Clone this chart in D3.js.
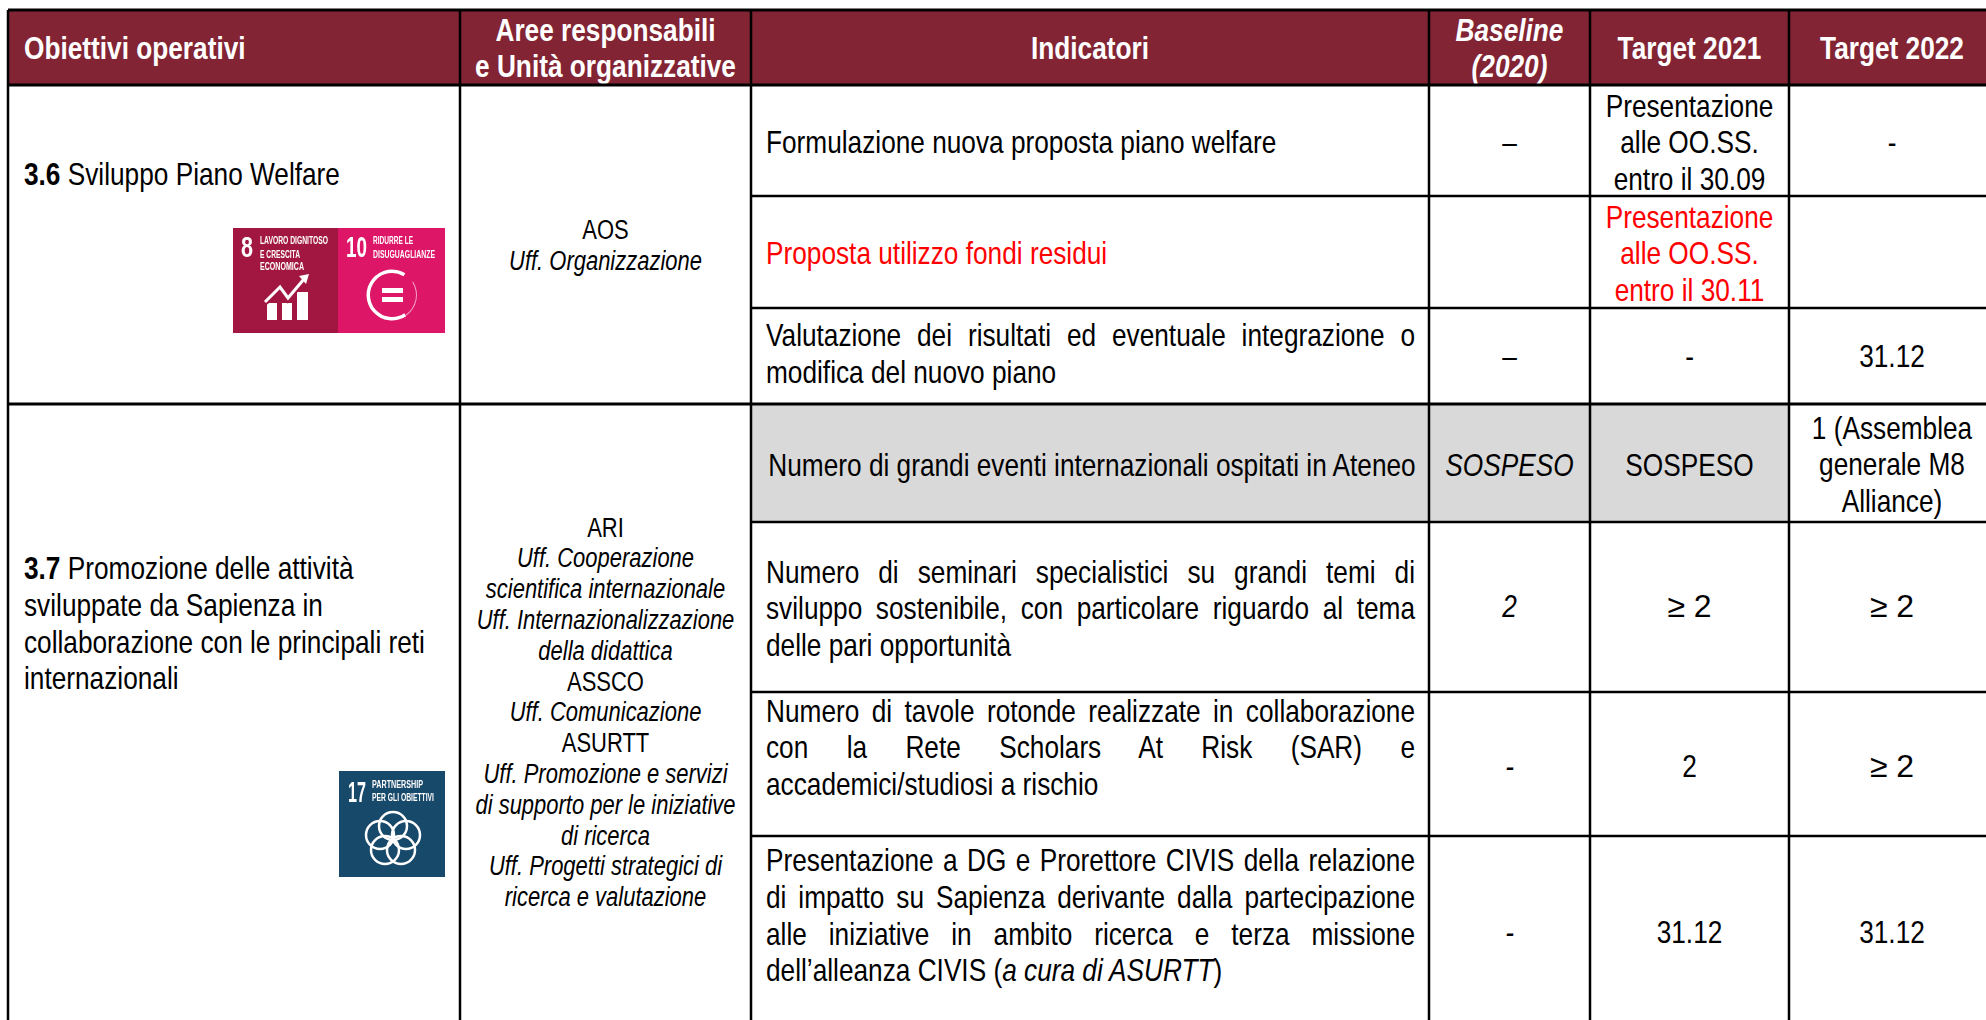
<!DOCTYPE html>
<html>
<head>
<meta charset="utf-8">
<script src="https://d3js.org/d3.v7.min.js"></script>
<style>
body { margin: 0; background: #fff; }
svg { display: block; }
text { font-family: "Liberation Sans", sans-serif; }
</style>
</head>
<body>
<div id="table"></div>
<script>
// table content
var headers = [["Obiettivi operativi"], ["Aree responsabili", "e Unità organizzative"], ["Indicatori"], ["Baseline", "(2020)"], ["Target 2021"], ["Target 2022"]];

var objective36 = ["Sviluppo Piano Welfare"];
var objective37 = ["Promozione delle attività", "sviluppate da Sapienza in", "collaborazione con le principali reti", "internazionali"];

// second item: true means the line is italic
var areas36 = [["AOS", false], ["Uff. Organizzazione", true]];
var areas37 = [
    ["ARI", false],
    ["Uff. Cooperazione", true],
    ["scientifica internazionale", true],
    ["Uff. Internazionalizzazione", true],
    ["della didattica", true],
    ["ASSCO", false],
    ["Uff. Comunicazione", true],
    ["ASURTT", false],
    ["Uff. Promozione e servizi", true],
    ["di supporto per le iniziative", true],
    ["di ricerca", true],
    ["Uff. Progetti strategici di", true],
    ["ricerca e valutazione", true]
];

var indicators = [
    ["Formulazione nuova proposta piano welfare"],
    ["Proposta utilizzo fondi residui"],
    ["Valutazione dei risultati ed eventuale integrazione o", "modifica del nuovo piano"],
    ["Numero di grandi eventi internazionali ospitati in Ateneo"],
    ["Numero di seminari specialistici su grandi temi di", "sviluppo sostenibile, con particolare riguardo al tema", "delle pari opportunità"],
    ["Numero di tavole rotonde realizzate in collaborazione", "con la Rete Scholars At Risk (SAR) e", "accademici/studiosi a rischio"],
    ["Presentazione a DG e Prorettore CIVIS della relazione", "di impatto su Sapienza derivante dalla partecipazione", "alle iniziative in ambito ricerca e terza missione", "dell’alleanza CIVIS ("]
];
var lastLineItalic = "a cura di ASURTT";

var baseline = [["–"], [], ["–"], ["SOSPESO"], ["2"], ["-"], ["-"]];
var target2021 = [
    ["Presentazione", "alle OO.SS.", "entro il 30.09"],
    ["Presentazione", "alle OO.SS.", "entro il 30.11"],
    ["-"], ["SOSPESO"], ["≥ 2"], ["2"], ["31.12"]
];
var target2022 = [["-"], [], ["31.12"], ["1 (Assemblea", "generale M8", "Alliance)"], ["≥ 2"], ["≥ 2"], ["31.12"]];

var rowKeys = d3.range(7);
var colKeys = d3.range(6);

var svgWidth = 1986;
var svgHeight = 1020;

// x of the left edge of each column, y of the top edge of each row
var colEdges = [8, 460, 751, 1429, 1590, 1789, 1990];
var rowEdges = [85, 196, 308, 404, 522, 692, 836, 1030];
var x = d3.scaleOrdinal(d3.range(7), colEdges);
var y = d3.scaleOrdinal(d3.range(8), rowEdges);

// no Arial Narrow on the machine, so squeeze Liberation Sans sideways
var narrow = 0.82;
var bigFont = 32;
var headFont = 32;
var smallFont = 26.8;
var bigLine = 36.7;
var smallLine = 30.8;
var red = "#ff0000";

var svg = d3.select("#table").append("svg").attr("width", svgWidth).attr("height", svgHeight);
var defs = svg.append("defs");
defs.append("filter").attr("id", "soft").append("feGaussianBlur").attr("stdDeviation", 0.5);

// draws lines centred vertically on cy
function block(lines, tx, cy, opts) {
    opts = opts || {};
    var size = opts.size || bigFont;
    var lh = opts.lh || bigLine;
    var top = cy - (lines.length - 1) * lh / 2;
    return lines.map(function (l, i) {
        // the >= sign came out in the full width font in the original
        var sx = l.indexOf("≥") === 0 ? 1 : narrow;
        return svg.append("text")
            .attr("transform", `translate(${tx}, ${top + i * lh}) scale(${sx}, 1)`)
            .attr("dy", "0.35em")
            .attr("text-anchor", opts.anchor || "middle")
            .attr("font-size", size)
            .attr("font-style", opts.italic ? "italic" : "normal")
            .attr("font-weight", opts.weight || "normal")
            .attr("fill", opts.fill || "#000")
            .text(l);
    });
}

// header band
svg.append("rect")
    .attr("x", x(0)).attr("y", 10)
    .attr("width", svgWidth - x(0)).attr("height", y(0) - 10)
    .attr("fill", "#822433");

// grey row
svg.append("rect")
    .attr("x", x(2)).attr("y", y(3))
    .attr("width", x(5) - x(2)).attr("height", y(4) - y(3))
    .attr("fill", "#d9d9d9");

// header labels
colKeys.forEach(function (c) {
    var tx = c === 0 ? 24 : (x(c) + x(c + 1)) / 2;
    if (c === 5) tx = 1892;
    block(headers[c], tx, 48, {
        fill: "#fff",
        size: headFont,
        weight: "bold",
        anchor: c === 0 ? "start" : "middle",
        italic: c === 3,
        lh: 36
    });
});

// objectives
var label36 = block(objective36, 24, 174, { anchor: "start" })[0];
label36.text(null);
label36.append("tspan").attr("font-weight", "bold").text("3.6");
label36.append("tspan").text(" " + objective36[0]);

var lines37 = block(objective37, 24, 623, { anchor: "start" });
lines37[0].text(null);
lines37[0].append("tspan").attr("font-weight", "bold").text("3.7");
lines37[0].append("tspan").text(" " + objective37[0]);

// areas
function areaBlock(lines, cy) {
    var top = cy - (lines.length - 1) * smallLine / 2;
    lines.forEach(function (l, i) {
        block([l[0]], (x(1) + x(2)) / 2, top + i * smallLine, { size: smallFont, italic: l[1] });
    });
}
areaBlock(areas36, 245);
areaBlock(areas37, 712);

// indicators, justified except on the last line of a paragraph
var indLeft = 766;
var indRight = 1415;
var indCentre = [142, 253, 353, 465, 608, 747, 915];
rowKeys.forEach(function (r) {
    var lines = indicators[r];
    var single = lines.length === 1;
    var texts = block(lines, r === 3 ? 1092 : indLeft, indCentre[r], {
        anchor: r === 3 ? "middle" : "start",
        fill: r === 1 ? red : "#000"
    });
    texts.forEach(function (t, i) {
        if (!single && i < lines.length - 1) {
            var gaps = lines[i].split(" ").length - 1;
            var room = (indRight - indLeft) / narrow;
            t.attr("word-spacing", (room - t.node().getComputedTextLength()) / gaps);
        }
    });
    if (r === 6) {
        var last = texts[3];
        last.append("tspan").attr("font-style", "italic").text(lastLineItalic);
        last.append("tspan").text(")");
    }
});

// value columns
var valueCentre = [142, 253, 356, 465, 606, 766, 932];
rowKeys.forEach(function (r) {
    block(baseline[r], (x(3) + x(4)) / 2, valueCentre[r], { italic: r >= 3 });
    block(target2021[r], (x(4) + x(5)) / 2, valueCentre[r], { fill: r === 1 ? red : "#000" });
    block(target2022[r], 1892, valueCentre[r] + (r === 3 ? -1 : 0));
});

// grid lines
var hLines = [
    [10, 3, x(0)], [y(0), 3, x(0)], [y(1), 2.5, x(2)], [y(2), 2.5, x(2)],
    [y(3), 3, x(0)], [y(4), 2.5, x(2)], [y(5), 2.5, x(2)], [y(6), 2.5, x(2)]
];
hLines.forEach(function (h) {
    svg.append("line")
        .attr("x1", h[2]).attr("x2", svgWidth)
        .attr("y1", h[0]).attr("y2", h[0])
        .attr("stroke", "#000").attr("stroke-width", h[1]);
});
d3.range(6).forEach(function (c) {
    svg.append("line")
        .attr("x1", x(c)).attr("x2", x(c))
        .attr("y1", 10).attr("y2", svgHeight)
        .attr("stroke", "#000").attr("stroke-width", 2.5);
});

// goal icons
var icons = svg.append("g").attr("filter", "url(#soft)");

function iconText(px, py, size, label, width) {
    icons.append("text").attr("x", px).attr("y", py)
        .attr("font-size", size).attr("font-weight", "bold")
        .attr("textLength", width).attr("lengthAdjust", "spacingAndGlyphs")
        .attr("fill", "#fff").text(label);
}

icons.append("rect").attr("x", 233).attr("y", 228).attr("width", 105).attr("height", 105).attr("fill", "#a21942");
icons.append("rect").attr("x", 338).attr("y", 228).attr("width", 107).attr("height", 105).attr("fill", "#dd1367");
iconText(241, 257, 29, "8", 12);
iconText(260, 244, 10.5, "LAVORO DIGNITOSO", 68);
iconText(260, 258, 10.5, "E CRESCITA", 40);
iconText(260, 270, 10.5, "ECONOMICA", 44);
iconText(346, 257, 29, "10", 21);
iconText(373, 244, 10.5, "RIDURRE LE", 40);
iconText(373, 258, 10.5, "DISUGUAGLIANZE", 62);

// growth chart pictogram
[[267, 303, 10], [282, 303, 10], [297, 292, 11]].forEach(function (b) {
    icons.append("rect").attr("x", b[0]).attr("y", b[1]).attr("width", b[2]).attr("height", 320 - b[1]).attr("fill", "#fff");
});
icons.append("path")
    .attr("d", "M265 302 L280 287 L288 298 L304 279")
    .attr("fill", "none").attr("stroke", "#a21942").attr("stroke-width", 7);
icons.append("path")
    .attr("d", "M265 302 L280 287 L288 298 L304 279")
    .attr("fill", "none").attr("stroke", "#fff").attr("stroke-width", 3);
icons.append("path").attr("d", "M309 274 L299 276 L306 284 Z").attr("fill", "#fff");

// equality pictogram
var thick = d3.arc().innerRadius(22).outerRadius(25.5);
var thin = d3.arc().innerRadius(24).outerRadius(25);
icons.append("path").attr("transform", "translate(392,295)")
    .attr("d", thick({ startAngle: 2.55, endAngle: 2 * Math.PI + 0.55 })).attr("fill", "#fff");
icons.append("path").attr("transform", "translate(392,295)")
    .attr("d", thin({ startAngle: 1, endAngle: 2.55 })).attr("fill", "#f4a6c8");
icons.append("rect").attr("x", 382).attr("y", 288).attr("width", 21).attr("height", 5).attr("fill", "#fff");
icons.append("rect").attr("x", 382).attr("y", 297).attr("width", 21).attr("height", 5).attr("fill", "#fff");

icons.append("rect").attr("x", 339).attr("y", 771).attr("width", 106).attr("height", 106).attr("fill", "#19486a");
iconText(348, 802, 29, "17", 18);
iconText(372, 788, 10.5, "PARTNERSHIP", 51);
iconText(372, 801, 10.5, "PER GLI OBIETTIVI", 62);
[[393, 826], [406, 835], [401, 850], [385, 850], [380, 835]].forEach(function (c) {
    icons.append("circle").attr("cx", c[0]).attr("cy", c[1]).attr("r", 14)
        .attr("fill", "none").attr("stroke", "#fff").attr("stroke-width", 2.5);
});
</script>
</body>
</html>
